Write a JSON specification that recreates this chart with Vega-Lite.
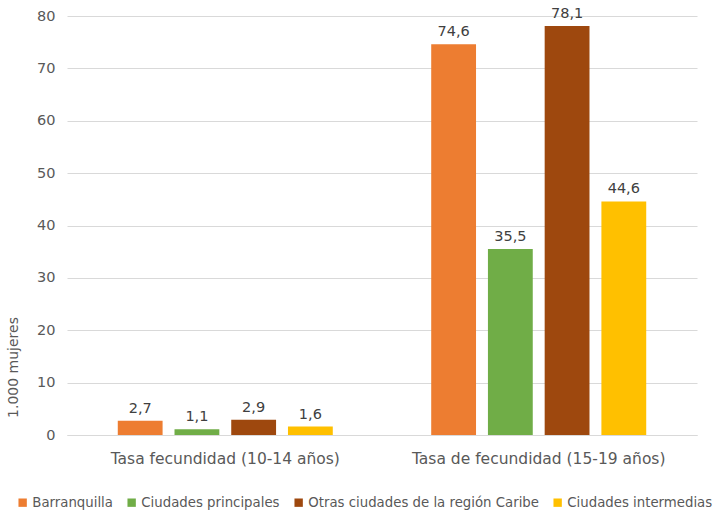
{
  "$schema": "https://vega.github.io/schema/vega-lite/v6.json",
  "width": 646,
  "height": 419,
  "autosize": {"type": "none"},
  "padding": {"left": 67, "top": 16, "right": 2, "bottom": 78},
  "background": "white",
  "config": {
    "view": {"stroke": null},
    "font": "DejaVu Sans",
    "locale": {"number": {"decimal": ",", "thousands": ".", "grouping": [3], "currency": ["$", ""]}}
  },
  "data": {
    "values": [
      {"cat": "Tasa fecundidad (10-14 años)", "serie": "Barranquilla", "v": 2.7},
      {"cat": "Tasa fecundidad (10-14 años)", "serie": "Ciudades principales", "v": 1.1},
      {"cat": "Tasa fecundidad (10-14 años)", "serie": "Otras ciudades de la región Caribe", "v": 2.9},
      {"cat": "Tasa fecundidad (10-14 años)", "serie": "Ciudades intermedias", "v": 1.6},
      {"cat": "Tasa de fecundidad (15-19 años)", "serie": "Barranquilla", "v": 74.6},
      {"cat": "Tasa de fecundidad (15-19 años)", "serie": "Ciudades principales", "v": 35.5},
      {"cat": "Tasa de fecundidad (15-19 años)", "serie": "Otras ciudades de la región Caribe", "v": 78.1},
      {"cat": "Tasa de fecundidad (15-19 años)", "serie": "Ciudades intermedias", "v": 44.6}
    ]
  },
  "encoding": {
    "x": {
      "field": "cat", "type": "nominal", "sort": null,
      "scale": {"range": [0, 630], "paddingInner": 0.314, "paddingOuter": 0.162},
      "axis": {"title": null, "labelAngle": 0, "ticks": false, "domainColor": "#d9d9d9", "labelColor": "#595959", "labelFontSize": 15.5, "labelPadding": 16, "labelLimit": 400}
    },
    "xOffset": {
      "field": "serie", "type": "nominal", "sort": null,
      "scale": {"paddingInner": 0.21, "paddingOuter": 0}
    },
    "y": {
      "field": "v", "type": "quantitative",
      "scale": {"domain": [0, 80]},
      "axis": {"title": "1.000 mujeres", "titleFontWeight": "normal", "titleFontSize": 14, "titleColor": "#595959", "titleY": 351, "titleX": -47, "values": [0, 10, 20, 30, 40, 50, 60, 70, 80], "labelOverlap": false, "domain": false, "ticks": false, "labelColor": "#595959", "labelFontSize": 14.5, "labelPadding": 12, "gridColor": "#d9d9d9"}
    }
  },
  "layer": [
    {
      "mark": {"type": "bar"},
      "encoding": {
        "color": {
          "field": "serie", "type": "nominal", "sort": null,
          "scale": {"domain": ["Barranquilla", "Ciudades principales", "Otras ciudades de la región Caribe", "Ciudades intermedias"], "range": ["#ED7D31", "#70AD47", "#9E480E", "#FFC000"]},
          "legend": {"title": null, "orient": "none", "direction": "horizontal", "legendX": -51, "legendY": 480, "symbolType": "square", "symbolSize": 70, "symbolStrokeWidth": 0, "labelFontSize": 13.3, "labelColor": "#595959", "columnPadding": 12, "labelOffset": 3, "labelLimit": 300}
        }
      }
    },
    {
      "mark": {"type": "text", "dy": -12, "fontSize": 14.5, "color": "#404040"},
      "encoding": {
        "text": {"field": "v", "type": "quantitative", "format": ".1f"}
      }
    }
  ]
}
